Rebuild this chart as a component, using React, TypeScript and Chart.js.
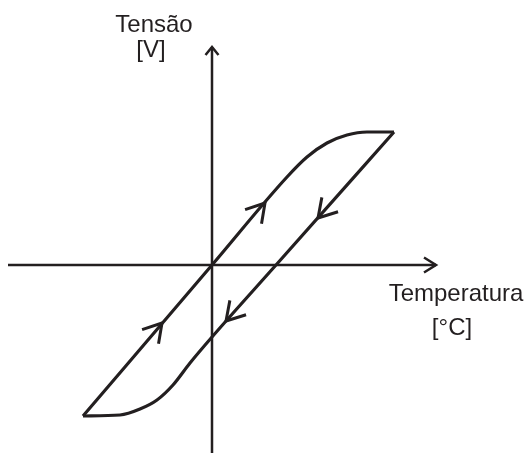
import React, { useEffect, useRef } from "react";
import { Chart, registerables } from "chart.js";

Chart.register(...registerables);

// Ascending branch (heating): Temperatura vs Tensão, relative units
const upX = [-129, 0, 75, 95, 115, 135, 155, 182];
const upY = [-151, 0, 88, 108, 122, 130, 133, 133];
// Descending branch (cooling)
const downX = [-129, -92, -72, -55, -39, -22, 0, 64, 182];
const downY = [-151, -150, -144, -135, -120, -98, -72, 0, 133];

// Direction arrows placed on the loop
const arrowX = [-50, 53, 106, 14];
const arrowY = [-58, 62, 47, -56];
const arrowDX = [1, 1, -1, -1];
const arrowDY = [1.17, 1.17, -1.126, -1.126];

// Axis extents (data units)
const xAxisFrom = -204;
const xAxisTo = 224;
const yAxisFrom = -188;
const yAxisTo = 218;

const yTitle = ["Tensão", "[V]"];
const xTitle = ["Temperatura", "[°C]"];

const INK = "#231f20";

const decorPlugin = {
  id: "decor",
  afterDatasetsDraw(chart: any) {
    const ctx = chart.ctx;
    const xs = chart.scales.x;
    const ys = chart.scales.y;
    const px = (v: number) => xs.getPixelForValue(v);
    const py = (v: number) => ys.getPixelForValue(v);
    ctx.save();
    ctx.strokeStyle = INK;
    ctx.lineCap = "butt";
    // axes
    ctx.lineWidth = 2.5;
    ctx.beginPath();
    ctx.moveTo(px(xAxisFrom), py(0));
    ctx.lineTo(px(xAxisTo), py(0));
    ctx.moveTo(px(0), py(yAxisFrom));
    ctx.lineTo(px(0), py(yAxisTo));
    ctx.stroke();
    // axis arrowheads
    const hx = px(xAxisTo), hy = py(0);
    ctx.beginPath();
    ctx.moveTo(hx - 12, hy - 7.5);
    ctx.lineTo(hx, hy);
    ctx.lineTo(hx - 12, hy + 7.5);
    ctx.stroke();
    const vx = px(0), vy = py(yAxisTo);
    ctx.beginPath();
    ctx.moveTo(vx - 6.5, vy + 8);
    ctx.lineTo(vx, vy);
    ctx.lineTo(vx + 6.5, vy + 8);
    ctx.stroke();
    // loop direction arrows
    ctx.lineWidth = 3;
    for (let i = 0; i < arrowX.length; i++) {
      const tx = px(arrowX[i]);
      const ty = py(arrowY[i]);
      const ex = px(arrowX[i] + arrowDX[i]) - px(arrowX[i]);
      const ey = py(arrowY[i] + arrowDY[i]) - py(arrowY[i]);
      const ang = Math.atan2(ey, ex);
      const L = 21;
      const a = (31 * Math.PI) / 180;
      ctx.beginPath();
      ctx.moveTo(tx - L * Math.cos(ang - a), ty - L * Math.sin(ang - a));
      ctx.lineTo(tx, ty);
      ctx.lineTo(tx - L * Math.cos(ang + a), ty - L * Math.sin(ang + a));
      ctx.stroke();
    }
    // titles
    ctx.fillStyle = INK;
    ctx.font = '24px "Liberation Sans", Arial, sans-serif';
    ctx.textAlign = "center";
    ctx.textBaseline = "alphabetic";
    ctx.fillText(yTitle[0], px(0) - 58, 32);
    ctx.fillText(yTitle[1], px(0) - 61, 57);
    ctx.fillText(xTitle[0], 456, py(0) + 36);
    ctx.fillText(xTitle[1], 452, py(0) + 70);
    ctx.restore();
  },
};

export default function App() {
  const ref = useRef<HTMLCanvasElement | null>(null);
  useEffect(() => {
    if (!ref.current) return;
    const mk = (xs: number[], ys: number[]) => xs.map((x, i) => ({ x, y: ys[i] }));
    const chart = new Chart(ref.current, {
      type: "scatter",
      data: {
        datasets: [
          {
            data: mk(upX, upY),
            showLine: true,
            borderColor: INK,
            borderWidth: 3.2,
            pointRadius: 0,
            cubicInterpolationMode: "monotone",
            fill: false,
          },
          {
            data: mk(downX, downY),
            showLine: true,
            borderColor: INK,
            borderWidth: 3.2,
            pointRadius: 0,
            cubicInterpolationMode: "monotone",
            fill: false,
          },
        ],
      },
      options: {
        responsive: false,
        animation: false,
        layout: { padding: 0 },
        plugins: { legend: { display: false }, tooltip: { enabled: false } },
        scales: {
          x: { type: "linear", display: false, min: -212, max: 319 },
          y: { type: "linear", display: false, min: -191, max: 265 },
        },
      } as any,
      plugins: [decorPlugin],
    });
    return () => chart.destroy();
  }, []);
  return (
    <div style={{ position: "absolute", left: 0, top: 0, width: 531, height: 456, background: "#fff" }}>
      <canvas ref={ref} width={531} height={456} style={{ display: "block" }} />
    </div>
  );
}
